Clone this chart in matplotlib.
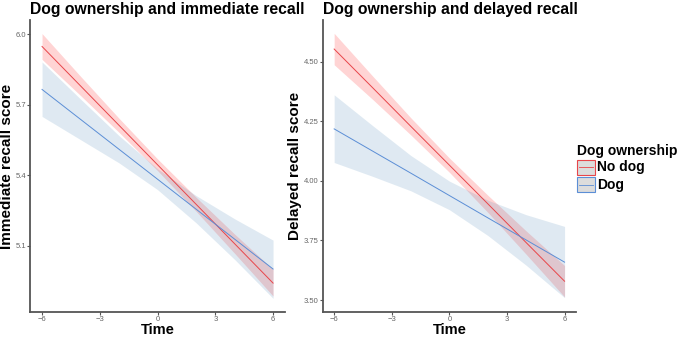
import numpy as np
import matplotlib
matplotlib.use('Agg')
import matplotlib.pyplot as plt
from matplotlib.patches import Rectangle
from matplotlib.lines import Line2D

plt.rcParams['font.family'] = ['Liberation Sans', 'DejaVu Sans']

# Time points (centred)
time = [-6, -4, -2, 0, 2, 4, 6]

# Immediate recall: fitted line and confidence band
imm_nodog = [5.949, 5.781, 5.613, 5.445, 5.277, 5.109, 4.941]
imm_nodog_lo = [5.894, 5.740, 5.583, 5.420, 5.247, 5.068, 4.886]
imm_nodog_hi = [6.004, 5.822, 5.643, 5.470, 5.307, 5.150, 5.000]
imm_dog = [5.766, 5.6385, 5.511, 5.3835, 5.256, 5.1285, 5.001]
imm_dog_lo = [5.651, 5.552, 5.453, 5.339, 5.198, 5.042, 4.876]
imm_dog_hi = [5.883, 5.725, 5.569, 5.428, 5.314, 5.215, 5.124]

# Delayed recall
del_nodog = [4.553, 4.391, 4.228, 4.066, 3.904, 3.741, 3.579]
del_nodog_lo = [4.487, 4.342, 4.192, 4.036, 3.868, 3.692, 3.513]
del_nodog_hi = [4.619, 4.440, 4.264, 4.096, 3.940, 3.790, 3.645]
del_dog = [4.218, 4.125, 4.032, 3.9385, 3.845, 3.752, 3.659]
del_dog_lo = [4.077, 4.019, 3.958, 3.879, 3.771, 3.646, 3.510]
del_dog_hi = [4.361, 4.232, 4.106, 3.999, 3.919, 3.858, 3.809]

x_ticks = [-6, -3, 0, 3, 6]
imm_ticks = [5.1, 5.4, 5.7, 6.0]
del_ticks = [3.50, 3.75, 4.00, 4.25, 4.50]

red_line = '#e8454a'
red_fill = '#ff0000'
blue_line = '#5b8ed6'
blue_fill = '#4682b4'


def style_axes(ax):
    for s in ['top', 'right']:
        ax.spines[s].set_visible(False)
    for s in ['left', 'bottom']:
        ax.spines[s].set_color('#555555')
        ax.spines[s].set_linewidth(1.3)
    ax.tick_params(colors='#555555', labelcolor='#666666', labelsize=5.5,
                   length=2, width=0.8, pad=1)
    ax.set_xlim(-6.6, 6.6)
    ax.set_xticks(x_ticks)


def draw_panel(ax, nodog, nodog_lo, nodog_hi, dog, dog_lo, dog_hi):
    ax.fill_between(time, nodog_lo, nodog_hi, color=red_fill, alpha=0.17, lw=0)
    ax.fill_between(time, dog_lo, dog_hi, color=blue_fill, alpha=0.17, lw=0)
    ax.plot(time, nodog, color=red_line, lw=0.7)
    ax.plot(time, dog, color=blue_line, lw=0.7)


fig = plt.figure(figsize=(6.85, 3.38), dpi=100)
ax1 = fig.add_axes([0.0445, 0.077, 0.371, 0.864])
ax2 = fig.add_axes([0.471, 0.077, 0.370, 0.864])

draw_panel(ax1, imm_nodog, imm_nodog_lo, imm_nodog_hi, imm_dog, imm_dog_lo, imm_dog_hi)
style_axes(ax1)
ax1.set_ylim(4.818, 6.062)
ax1.set_yticks(imm_ticks)
ax1.set_yticklabels(['5.1', '5.4', '5.7', '6.0'])
ax1.set_ylabel('Immediate recall score', fontsize=11, fontweight='bold', labelpad=1)
ax1.set_xlabel('Time', fontsize=10.5, fontweight='bold', labelpad=0)
ax1.set_title('Dog ownership and immediate recall', fontsize=11.3, fontweight='bold',
              loc='left', pad=4)

draw_panel(ax2, del_nodog, del_nodog_lo, del_nodog_hi, del_dog, del_dog_lo, del_dog_hi)
style_axes(ax2)
ax2.set_ylim(3.45, 4.675)
ax2.set_yticks(del_ticks)
ax2.set_yticklabels(['3.50', '3.75', '4.00', '4.25', '4.50'])
ax2.set_ylabel('Delayed recall score', fontsize=11, fontweight='bold', labelpad=1)
ax2.set_xlabel('Time', fontsize=10.5, fontweight='bold', labelpad=0)
ax2.set_title('Dog ownership and delayed recall', fontsize=11.3, fontweight='bold',
              loc='left', pad=4)

# legend drawn manually in figure coordinates
fig.text(0.842, 0.552, 'Dog ownership', fontsize=10, fontweight='bold', va='center')
keys = [('No dog', red_line, red_fill), ('Dog', blue_line, blue_fill)]
for i, (lab, lc, fc) in enumerate(keys):
    yc = 0.505 - i * 0.051
    fig.patches.append(Rectangle((0.843, yc - 0.023), 0.025, 0.046, transform=fig.transFigure,
                                 facecolor='#dcdcdc', edgecolor=lc, lw=0.8))
    fig.lines.append(Line2D([0.845, 0.866], [yc, yc], transform=fig.transFigure,
                            color=lc, lw=0.6))
    fig.text(0.872, yc, lab, fontsize=10, fontweight='bold', va='center')

fig.savefig('out.png', dpi=100)
